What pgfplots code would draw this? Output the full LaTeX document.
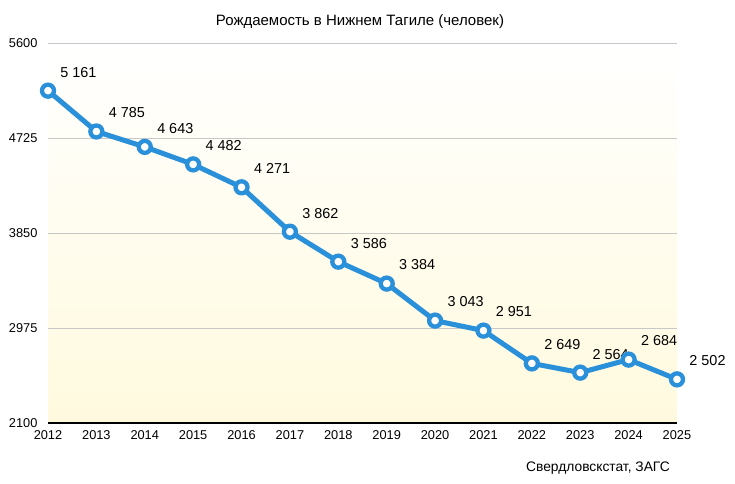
\documentclass[border=0pt]{standalone}
\usepackage{pgfplots}
\pgfplotsset{compat=1.18}
\usepackage{fontspec}
\setmainfont{Liberation Sans}
\definecolor{lineblue}{RGB}{41,144,217}
\definecolor{bgyellow}{RGB}{255,250,222}
\definecolor{gridgray}{RGB}{200,200,200}
\begin{document}
\begin{tikzpicture}[x=1pt,y=1pt]
\path[use as bounding box] (0,0) rectangle (735,483);
\begin{axis}[
  at={(48pt,60pt)}, anchor=south west,
  scale only axis, width=629pt, height=380pt,
  xmin=2012, xmax=2025, ymin=2100, ymax=5600,
  xtick={2012,...,2025}, ytick={2100,2975,3850,4725,5600},
  /pgf/number format/1000 sep={},
  /pgf/number format/assume math mode=true,
  axis x line*=bottom, axis y line*=left,
  x axis line style={black, line width=1.8pt, -},
  y axis line style={draw=none},
  major tick length=0pt,
  ymajorgrids, grid style={gridgray, line width=0.8pt},
  axis background/.style={top color=white, bottom color=bgyellow},
  tick label style={font=\fontsize{12.8}{14}\selectfont},
  yticklabel style={xshift=-7pt},
  xticklabel style={yshift=-4.5pt},
  clip=false,
  point meta=explicit symbolic,
  nodes near coords,
  every node near coord/.append style={anchor=south west, xshift=7pt, yshift=8pt, font=\fontsize{14.4}{16}\selectfont, text=black},
]
\addplot[lineblue, line width=5pt, mark=*, mark size=6pt,
  mark options={fill=white, draw=lineblue, line width=4.3pt}]
  table[meta=label, col sep=comma] {
x,y,label
2012,5161,5 161
2013,4785,4 785
2014,4643,4 643
2015,4482,4 482
2016,4271,4 271
2017,3862,3 862
2018,3586,3 586
2019,3384,3 384
2020,3043,3 043
2021,2951,2 951
2022,2649,2 649
2023,2564,2 564
2024,2684,2 684
2025,2502,2 502
};
\end{axis}
\node at (360,461) {\fontsize{15}{17}\selectfont Рождаемость в Нижнем Тагиле (человек)};
\node[anchor=east, inner sep=0pt] at (670,15) {\fontsize{13.8}{15}\selectfont Свердловскстат, ЗАГС};
\end{tikzpicture}
\end{document}
